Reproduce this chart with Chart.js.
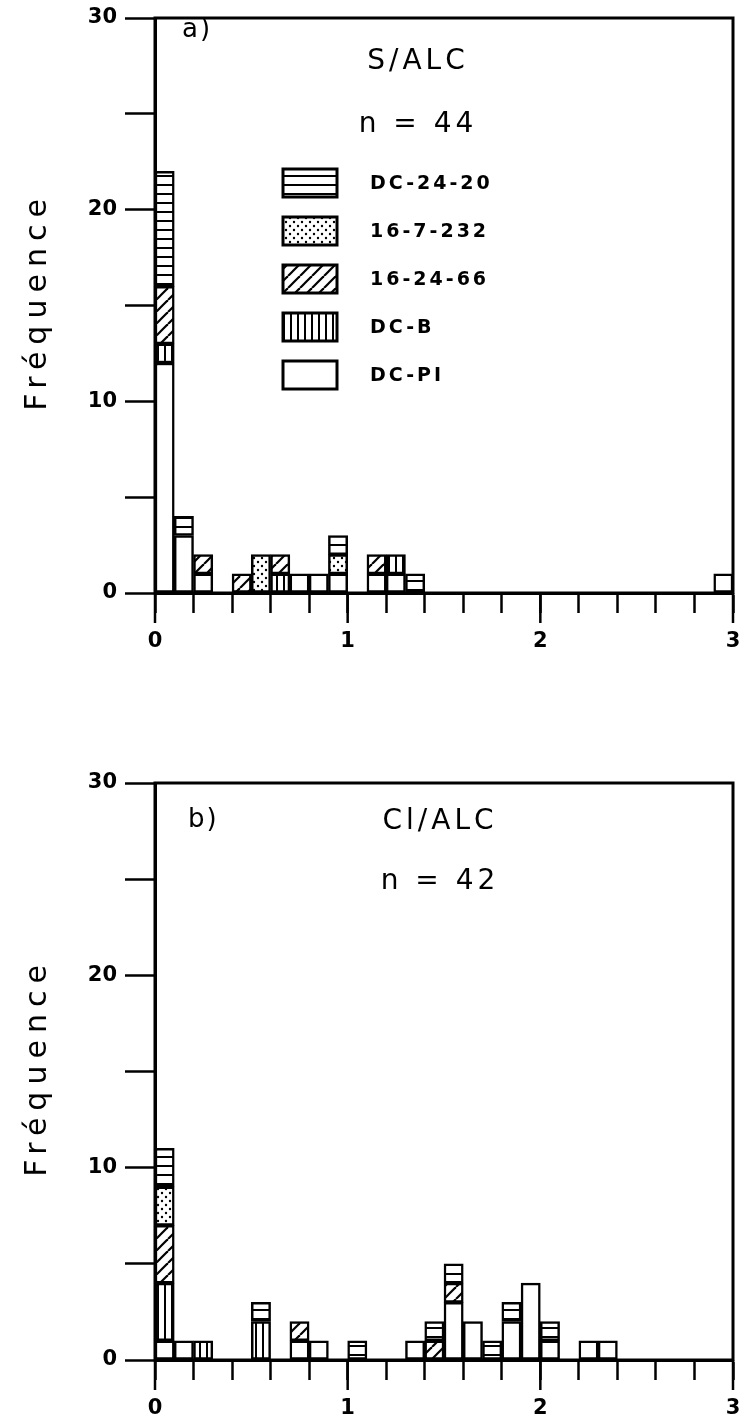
<!DOCTYPE html>
<html>
<head>
<meta charset="utf-8">
<script src="https://cdn.jsdelivr.net/npm/chart.js@4.4.1/dist/chart.umd.min.js"></script>
<style>
  html, body { margin: 0; padding: 0; background: #fff; }
  #wrap { position: relative; width: 742px; height: 1423px; }
  #wrap canvas { position: absolute; left: 0; }
</style>
</head>
<body>
<div id="wrap">
  <canvas id="chartA" width="742" height="711" style="top:0px"></canvas>
  <canvas id="chartB" width="742" height="712" style="top:711px"></canvas>
</div>
<script>
// histogram bins, width 0.1, from 0 to 3 (bin centres)
var binCenters = [0.05, 0.15, 0.25, 0.35, 0.45, 0.55, 0.65, 0.75, 0.85, 0.95,
                  1.05, 1.15, 1.25, 1.35, 1.45, 1.55, 1.65, 1.75, 1.85, 1.95,
                  2.05, 2.15, 2.25, 2.35, 2.45, 2.55, 2.65, 2.75, 2.85, 2.95];

// legend order (top to bottom) is the reverse of stacking order
var seriesNames = ['DC-PI', 'DC-B', '16-24-66', '16-7-232', 'DC-24-20'];

// a) S/ALC, n = 44
var aDCPI   = [12,3,1,0,0,0,0,1,1,1, 0,1,1,0,0,0,0,0,0,0, 0,0,0,0,0,0,0,0,0,1];
var aDCB    = [ 1,0,0,0,0,0,1,0,0,0, 0,0,1,0,0,0,0,0,0,0, 0,0,0,0,0,0,0,0,0,0];
var a162466 = [ 3,0,1,0,1,0,1,0,0,0, 0,1,0,0,0,0,0,0,0,0, 0,0,0,0,0,0,0,0,0,0];
var a167232 = [ 0,0,0,0,0,2,0,0,0,1, 0,0,0,0,0,0,0,0,0,0, 0,0,0,0,0,0,0,0,0,0];
var aDC2420 = [ 6,1,0,0,0,0,0,0,0,1, 0,0,0,1,0,0,0,0,0,0, 0,0,0,0,0,0,0,0,0,0];

// b) Cl/ALC, n = 42
var bDCPI   = [ 1,1,0,0,0,0,0,1,1,0, 0,0,0,1,0,3,2,0,2,4, 1,0,1,1,0,0,0,0,0,0];
var bDCB    = [ 3,0,1,0,0,2,0,0,0,0, 0,0,0,0,0,0,0,0,0,0, 0,0,0,0,0,0,0,0,0,0];
var b162466 = [ 3,0,0,0,0,0,0,1,0,0, 0,0,0,0,1,1,0,0,0,0, 0,0,0,0,0,0,0,0,0,0];
var b167232 = [ 2,0,0,0,0,0,0,0,0,0, 0,0,0,0,0,0,0,0,0,0, 0,0,0,0,0,0,0,0,0,0];
var bDC2420 = [ 2,0,0,0,0,1,0,0,0,0, 1,0,0,0,1,1,0,1,1,0, 1,0,0,0,0,0,0,0,0,0];

var yLabelTicks = [0, 10, 20, 30];
var xLabelTicks = [0, 1, 2, 3];

var FONT = "'DejaVu Sans', sans-serif";

function makePattern(kind) {
    if (kind == 'blank') return '#ffffff';
    var c = document.createElement('canvas');
    var g;
    if (kind == 'hlines') {
        c.width = 8; c.height = 9;
        g = c.getContext('2d');
        g.fillStyle = '#fff'; g.fillRect(0, 0, 8, 9);
        g.fillStyle = '#000'; g.fillRect(0, 4, 8, 2);
    } else if (kind == 'dots') {
        c.width = 8; c.height = 8;
        g = c.getContext('2d');
        g.fillStyle = '#fff'; g.fillRect(0, 0, 8, 8);
        g.fillStyle = '#000';
        g.beginPath(); g.arc(2, 2, 1.2, 0, Math.PI * 2); g.fill();
        g.beginPath(); g.arc(6, 6, 1.2, 0, Math.PI * 2); g.fill();
    } else if (kind == 'diag') {
        c.width = 12; c.height = 12;
        g = c.getContext('2d');
        g.fillStyle = '#fff'; g.fillRect(0, 0, 12, 12);
        g.strokeStyle = '#000'; g.lineWidth = 2.2;
        for (var k = -1; k <= 1; k++) {
            g.beginPath(); g.moveTo(k * 12, 12); g.lineTo(k * 12 + 12, 0); g.stroke();
        }
    } else if (kind == 'vlines') {
        c.width = 7; c.height = 4;
        g = c.getContext('2d');
        g.fillStyle = '#fff'; g.fillRect(0, 0, 7, 4);
        g.fillStyle = '#000'; g.fillRect(3, 0, 2, 4);
    }
    return document.createElement('canvas').getContext('2d').createPattern(c, 'repeat');
}

var fills = [makePattern('blank'), makePattern('vlines'), makePattern('diag'),
             makePattern('dots'), makePattern('hlines')];

function spaced(ctx, px) {
    if ('letterSpacing' in ctx) ctx.letterSpacing = px + 'px';
}

// frame, long integer ticks and all the free text of a panel
var panelDecor = {
    id: 'panelDecor',
    afterDraw: function(chart, args, opts) {
        var ctx = chart.ctx;
        var area = chart.chartArea;
        var xs = chart.scales.x;
        ctx.save();
        ctx.strokeStyle = '#000';
        ctx.lineWidth = 3;
        ctx.strokeRect(area.left, area.top, area.right - area.left, area.bottom - area.top);
        ctx.lineWidth = 2.5;
        xLabelTicks.forEach(function(v) {
            var px = xs.getPixelForValue(v);
            ctx.beginPath(); ctx.moveTo(px, area.bottom); ctx.lineTo(px, area.bottom + 30); ctx.stroke();
        });

        ctx.fillStyle = '#000';
        ctx.textBaseline = 'middle';

        // y axis title
        ctx.save();
        ctx.translate(38, (area.top + area.bottom) / 2 - 4);
        ctx.rotate(-Math.PI / 2);
        ctx.textAlign = 'center';
        ctx.font = '30px ' + FONT;
        spaced(ctx, 7);
        ctx.fillText('Fréquence', 0, 0);
        ctx.restore();

        ctx.textAlign = 'left';
        ctx.font = '26px ' + FONT;
        spaced(ctx, 2);
        ctx.fillText(opts.tag, opts.tagX, opts.tagY);

        ctx.textAlign = 'center';
        ctx.font = '28px ' + FONT;
        spaced(ctx, 4);
        ctx.fillText(opts.title, opts.titleX, opts.titleY);
        ctx.fillText(opts.count, opts.titleX, opts.countY);

        if (opts.legend) {
            var names = seriesNames.slice().reverse();
            var pats = fills.slice().reverse();
            ctx.font = 'bold 19px ' + FONT;
            spaced(ctx, 3);
            ctx.textAlign = 'left';
            names.forEach(function(name, i) {
                var cy = opts.legendY + i * 48;
                ctx.fillStyle = pats[i];
                ctx.fillRect(opts.legendX, cy - 14, 54, 28);
                ctx.lineWidth = 3;
                ctx.strokeRect(opts.legendX, cy - 14, 54, 28);
                ctx.fillStyle = '#000';
                ctx.fillText(name, opts.legendX + 87, cy + 1);
            });
        }
        ctx.restore();
    }
};

function buildPanel(id, series, padTop, xHeight, decor) {
    var datasets = series.map(function(values, i) {
        return {
            label: seriesNames[i],
            data: values,
            backgroundColor: fills[i],
            borderColor: '#000',
            borderWidth: 2.5,
            borderSkipped: false,
            barPercentage: 1,
            categoryPercentage: 1
        };
    });
    return new Chart(document.getElementById(id), {
        type: 'bar',
        data: { labels: binCenters, datasets: datasets },
        options: {
            responsive: false,
            animation: false,
            devicePixelRatio: 1,
            layout: { padding: { top: padTop, right: 9, left: 0, bottom: 0 } },
            plugins: {
                legend: { display: false },
                tooltip: { enabled: false },
                panelDecor: decor
            },
            scales: {
                x: {
                    type: 'linear',
                    stacked: true,
                    offset: false,
                    min: 0,
                    max: 3,
                    afterFit: function(s) {
                        s.height = xHeight;
                        s.paddingLeft = 0;
                        s.paddingRight = 0;
                    },
                    border: { display: true, color: '#000', width: 3 },
                    grid: { offset: false, drawOnChartArea: false, drawTicks: true, tickLength: 20,
                            tickWidth: 2.5, tickColor: '#000', color: '#000' },
                    ticks: {
                        stepSize: 0.2,
                        maxRotation: 0,
                        autoSkip: false,
                        padding: 16,
                        color: '#000',
                        font: { family: FONT, weight: 'bold', size: 21 },
                        callback: function(v) {
                            var r = Math.round(v);
                            return (Math.abs(v - r) < 1e-6 && xLabelTicks.indexOf(r) >= 0) ? String(r) : '';
                        }
                    }
                },
                y: {
                    stacked: true,
                    min: 0,
                    max: 30,
                    afterFit: function(s) {
                        s.width = 155;
                        s.paddingTop = 0;
                        s.paddingBottom = 0;
                    },
                    border: { display: true, color: '#000', width: 3 },
                    grid: { drawOnChartArea: false, drawTicks: true, tickLength: 30,
                            tickWidth: 2.5, tickColor: '#000', color: '#000' },
                    ticks: {
                        stepSize: 5,
                        padding: 8,
                        color: '#000',
                        font: { family: FONT, weight: 'bold', size: 21 },
                        callback: function(v) {
                            return yLabelTicks.indexOf(v) >= 0 ? String(v) : '';
                        }
                    }
                }
            }
        },
        plugins: [panelDecor]
    });
}

buildPanel('chartA', [aDCPI, aDCB, a162466, a167232, aDC2420], 18, 118, {
    tag: 'a)', tagX: 182, tagY: 30,
    title: 'S/ALC', titleX: 418, titleY: 62,
    count: 'n = 44', countY: 125,
    legend: true, legendX: 283, legendY: 183
});

buildPanel('chartB', [bDCPI, bDCB, b162466, b167232, bDC2420], 72, 63, {
    tag: 'b)', tagX: 188, tagY: 109,
    title: 'Cl/ALC', titleX: 440, titleY: 111,
    count: 'n = 42', countY: 171,
    legend: false
});
</script>
</body>
</html>
